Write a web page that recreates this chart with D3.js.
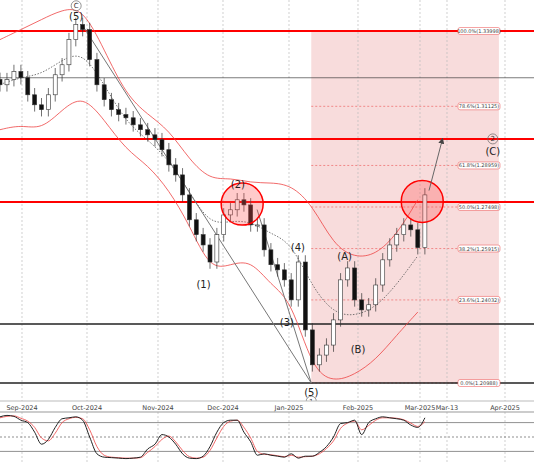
<!DOCTYPE html>
<html><head><meta charset="utf-8">
<script src="https://cdn.jsdelivr.net/npm/d3@7"></script>
<style>body{margin:0;background:#fff}text{font-family:"DejaVu Sans",sans-serif}</style>
</head><body><svg width="534" height="462"></svg>
<script>
var svg = d3.select('svg');

// closes, one every 76 hours from 22 Aug 2024
var closes = [1.3201,1.3220,1.3250,1.3227,1.3164,1.3127,1.3109,1.3164,1.3238,1.3275,1.3368,1.3424,1.3405,1.3294,1.3201,1.3146,
  1.3109,1.3091,1.3079,1.3053,1.3035,1.3016,1.2998,1.2961,1.2905,1.2868,1.2794,1.2702,1.2647,1.2609,1.2546,1.2647,1.2720,1.2739,
  1.2776,1.2757,1.2683,1.2683,1.2591,1.2536,1.2517,1.2480,1.2406,1.2546,1.2295,1.2166,1.2202,1.2239,1.2332,1.2480,1.2524,1.2406,
  1.2369,1.2388,1.2461,1.2554,1.2609,1.2647,1.2683,1.2665,1.2599,1.2794];
// bands, every third point
var bbUpper = [1.3368,1.3405,1.3442,1.3479,1.3486,1.3331,1.3164,1.3091,1.3035,1.2924,1.2850,1.2857,1.2839,1.2839,1.2831,1.2757,1.2609,1.2561,1.2572,1.2647,1.2776];
var bbMid = [1.3202,1.3229,1.3239,1.3294,1.3325,1.3202,1.3063,1.2998,1.2924,1.2804,1.2684,1.2697,1.2697,1.2650,1.2619,1.2452,1.2356,1.2345,1.2378,1.2462,1.2569];
var bbLower = [1.3035,1.3053,1.3035,1.3109,1.3164,1.3072,1.2961,1.2905,1.2813,1.2683,1.2517,1.2536,1.2554,1.2461,1.2406,1.2147,1.2102,1.2129,1.2184,1.2276,1.2361];
var stochK = [92,95,93,85,80,60,35,45,70,88,90,92,85,50,15,8,7,6,5,6,8,25,35,55,50,35,15,6,5,10,30,60,80,85,85,60,40,12,15,12,10,8,15,6,10,10,18,30,50,78,80,85,55,80,88,92,90,88,85,75,70,90];
var stochD = [90,93,94,89,83,70,48,42,58,80,88,91,88,65,30,12,8,7,6,6,7,18,30,45,52,40,22,9,6,8,22,48,72,83,85,70,48,20,14,13,11,9,12,8,9,10,15,26,42,68,79,83,65,74,85,90,90,89,86,79,72,82];
var fibLevels = [0, 0.236, 0.382, 0.5, 0.618, 0.786, 1];
var fibLabels = ['0.0%(1.20988)','23.6%(1.24032)','38.2%(1.25915)','50.0%(1.27498)','61.8%(1.28959)','78.6%(1.31125)','100.0%(1.33998)'];
var fibLow = 1.20988, fibHigh = 1.33998;
var redLevels = [1.3400, 1.3001, 1.2768];
var blackLevels = [1.3227, 1.2317, 1.20988];
var months = ['2024-09-01','2024-10-01','2024-11-01','2024-12-01','2025-01-01','2025-02-01','2025-03-01','2025-03-13','2025-04-01'];
var monthLabels = ['Sep-2024','Oct-2024','Nov-2024','Dec-2024','Jan-2025','Feb-2025','Mar-2025','Mar-13','Apr-2025'];
var waves = [
  {d:'2024-09-26', p:1.3445, t:'(5)', dy:1}, {d:'2024-11-22', p:1.2517, t:'(1)', dy:18},
  {d:'2024-12-08', p:1.2806, t:'(2)', dy:-4}, {d:'2024-12-31', p:1.2361, t:'(3)', dy:14},
  {d:'2025-01-05', p:1.2572, t:'(4)', dy:-4}, {d:'2025-01-11', p:1.2102, t:'(5)', dy:14},
  {d:'2025-01-26', p:1.2539, t:'(A)', dy:-4}, {d:'2025-02-01', p:1.2276, t:'(B)', dy:18},
  {d:'2025-03-28', p:1.2960, t:'(C)', dy:5}];
var circled = [{d:'2024-09-26', p:1.3445, t:'C', dy:-13}, {d:'2025-01-11', p:1.2102, t:'1', dy:19}, {d:'2025-03-28', p:1.3001, t:'2', dy:0}];

var parse = d3.timeParse('%Y-%m-%d');
var start = parse('2024-08-22');
var dates = closes.map(function(c, i){ return d3.timeHour.offset(start, i * 76); });
var bbDates = bbUpper.map(function(c, i){ return dates[i * 3]; });

var x = d3.scaleTime()
  .domain(['2024-08-22','2024-09-01','2024-10-01','2024-11-01','2024-12-01','2025-01-01','2025-02-01','2025-03-01','2025-03-13','2025-04-01','2025-04-09'].map(parse))
  .range([0, 22, 87, 158, 223, 289, 358, 420, 447, 505, 534]);
var y = d3.scaleLinear().domain([fibLow, fibHigh]).range([383, 31]);
var ys = d3.scaleLinear().domain([0, 100]).range([461, 413]);

var zoneStart = parse('2025-01-11'), zoneEnd = parse('2025-03-30');
svg.append('rect').attr('x', x(zoneStart)).attr('y', y(fibHigh))
  .attr('width', x(zoneEnd) - x(zoneStart)).attr('height', y(fibLow) - y(fibHigh))
  .attr('fill', '#f8dcdc');

// vertical grid
months.forEach(function(m){
  svg.append('line').attr('x1', x(parse(m))).attr('x2', x(parse(m))).attr('y1', 0).attr('y2', 462)
    .attr('stroke', '#bbb').attr('stroke-dasharray', '2,2').attr('stroke-width', 0.7);
});

fibLevels.forEach(function(f){
  var yy = y(fibLow + (fibHigh - fibLow) * f);
  svg.append('line').attr('x1', x(zoneStart)).attr('x2', x(zoneEnd)).attr('y1', yy).attr('y2', yy)
    .attr('stroke', '#e66').attr('stroke-dasharray', '2,2').attr('stroke-width', 0.7);
});

blackLevels.forEach(function(p, i){
  svg.append('line').attr('x1', 0).attr('x2', 534).attr('y1', y(p)).attr('y2', y(p))
    .attr('stroke', '#222').attr('stroke-width', i == 0 ? 0.6 : 1.6);
});
redLevels.forEach(function(p){
  svg.append('line').attr('x1', 0).attr('x2', 534).attr('y1', y(p)).attr('y2', y(p))
    .attr('stroke', '#f00').attr('stroke-width', 2);
});

// bands
function bandLine(arr, dash, col){
  svg.append('path').datum(arr).attr('fill', 'none').attr('stroke', col).attr('stroke-width', 0.8)
    .attr('stroke-dasharray', dash)
    .attr('d', d3.line().curve(d3.curveBasis).x(function(d, i){ return x(bbDates[i]); }).y(function(d){ return y(d); }));
}
bandLine(bbUpper, null, '#e44');
bandLine(bbLower, null, '#e44');
bandLine(bbMid, '1.5,1.5', '#555');

// wave lines
var topPt = [parse('2024-09-29'), 1.3420], lowPt = [parse('2025-01-11'), fibLow], w2Pt = [parse('2024-12-17'), 1.2740];
[[topPt, lowPt], [w2Pt, lowPt]].forEach(function(s){
  svg.append('line').attr('x1', x(s[0][0])).attr('y1', y(s[0][1])).attr('x2', x(s[1][0])).attr('y2', y(s[1][1]))
    .attr('stroke', '#777').attr('stroke-width', 1);
});

// candles
var cw = 4;
var candles = svg.append('g');
closes.forEach(function(c, i){
  var o = i == 0 ? c + 0.002 : closes[i - 1];
  var hi = Math.max(o, c) + 0.0025, lo = Math.min(o, c) - 0.0025;
  var cx = x(dates[i]);
  candles.append('line').attr('x1', cx).attr('x2', cx).attr('y1', y(hi)).attr('y2', y(lo)).attr('stroke', '#333').attr('stroke-width', 0.7);
  candles.append('rect').attr('x', cx - cw / 2).attr('width', cw)
    .attr('y', y(Math.max(o, c))).attr('height', Math.max(1, Math.abs(y(o) - y(c))))
    .attr('fill', c >= o ? '#fff' : '#111').attr('stroke', '#333').attr('stroke-width', 0.6);
});

// circles
[[parse('2024-12-10'), 1.2760], [parse('2025-03-02'), 1.2770]].forEach(function(c){
  svg.append('circle').attr('cx', x(c[0])).attr('cy', y(c[1])).attr('r', 21)
    .attr('fill', 'rgba(255,80,80,0.3)').attr('stroke', '#f00').attr('stroke-width', 1.5);
});

// arrow
var a0 = [parse('2025-03-05'), 1.2810], a1 = [parse('2025-03-11'), 1.3001];
svg.append('defs').append('marker').attr('id', 'ar').attr('viewBox', '0 0 10 10').attr('refX', 8).attr('refY', 5)
  .attr('markerWidth', 6).attr('markerHeight', 6).attr('orient', 'auto')
  .append('path').attr('d', 'M0,0L10,5L0,10z').attr('fill', '#444');
svg.append('line').attr('x1', x(a0[0])).attr('y1', y(a0[1])).attr('x2', x(a1[0])).attr('y2', y(a1[1]))
  .attr('stroke', '#666').attr('stroke-width', 1).attr('marker-end', 'url(#ar)');

// fib labels
fibLevels.forEach(function(f, i){
  var yy = y(fibLow + (fibHigh - fibLow) * f);
  var g = svg.append('g');
  g.append('rect').attr('x', 458).attr('y', yy - 3.5).attr('width', 42).attr('height', 7).attr('rx', 2)
    .attr('fill', '#fff').attr('stroke', '#e66').attr('stroke-width', 0.6);
  g.append('text').attr('x', 479).attr('y', yy + 2).attr('text-anchor', 'middle').attr('font-size', 5).attr('fill', '#444').text(fibLabels[i]);
});

// wave labels
waves.forEach(function(w){
  svg.append('text').attr('x', x(parse(w.d))).attr('y', y(w.p) + w.dy).attr('text-anchor', 'middle')
    .attr('font-size', 10).attr('fill', '#222').text(w.t);
});
circled.forEach(function(w){
  var cx = x(parse(w.d)), cy = y(w.p) + w.dy;
  svg.append('circle').attr('cx', cx).attr('cy', cy).attr('r', 5).attr('fill', 'none').attr('stroke', '#666').attr('stroke-width', 0.7);
  svg.append('text').attr('x', cx).attr('y', cy + 2.5).attr('text-anchor', 'middle').attr('font-size', 7).attr('fill', '#333').text(w.t);
});

// date axis
svg.append('rect').attr('x', 0).attr('y', 401).attr('width', 534).attr('height', 11).attr('fill', '#fff');
svg.append('line').attr('x1', 0).attr('x2', 534).attr('y1', 401).attr('y2', 401).attr('stroke', '#bbb');
svg.append('line').attr('x1', 0).attr('x2', 534).attr('y1', 412).attr('y2', 412).attr('stroke', '#999');
months.forEach(function(m, i){
  svg.append('text').attr('x', x(parse(m))).attr('y', 410).attr('text-anchor', 'middle').attr('font-size', 6.5)
    .attr('fill', '#444').text(monthLabels[i]);
});

// stochastic
[80, 20].forEach(function(v){
  svg.append('line').attr('x1', 0).attr('x2', 534).attr('y1', ys(v)).attr('y2', ys(v)).attr('stroke', '#444').attr('stroke-width', 0.6);
});
svg.append('line').attr('x1', 0).attr('x2', 534).attr('y1', ys(50)).attr('y2', ys(50)).attr('stroke', '#444').attr('stroke-dasharray', '2,2').attr('stroke-width', 0.6);
var sl = d3.line().curve(d3.curveMonotoneX).x(function(d, i){ return x(dates[i]); }).y(function(d){ return ys(d); });
svg.append('path').datum(stochD).attr('fill', 'none').attr('stroke', '#e44').attr('stroke-width', 0.8).attr('d', sl);
svg.append('path').datum(stochK).attr('fill', 'none').attr('stroke', '#222').attr('stroke-width', 1).attr('d', sl);
</script></body></html>
